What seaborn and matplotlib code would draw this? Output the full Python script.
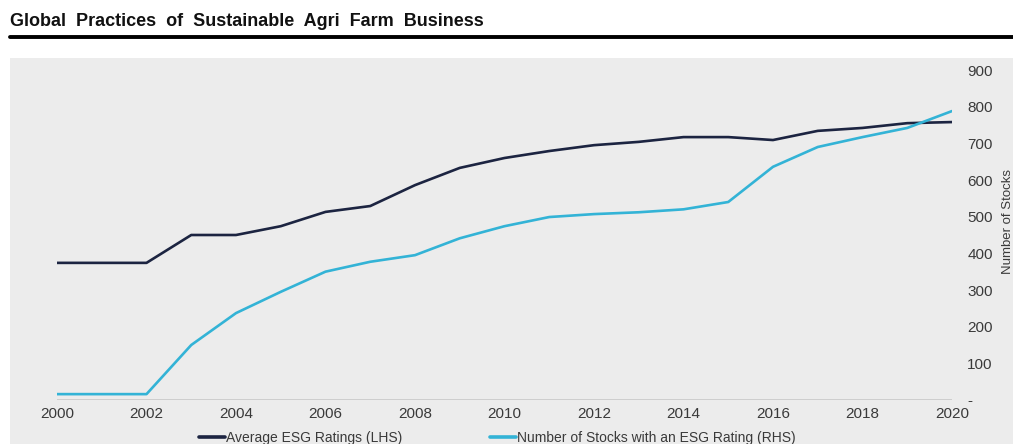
import matplotlib
matplotlib.use("Agg")
import matplotlib.pyplot as plt
from matplotlib.patches import Rectangle
import seaborn as sns
import pandas as pd

# Series values
years = list(range(2000, 2021))
avg_esg_rating = [374, 374, 374, 450, 450, 474, 513, 529, 586, 633, 660,
                  679, 695, 704, 717, 717, 709, 734, 742, 755, 758]
stocks_with_rating = [16, 16, 16, 150, 237, 295, 350, 377, 395, 441, 474,
                      499, 507, 512, 520, 540, 636, 690, 717, 742, 788]
series_names = ["Average ESG Ratings (LHS)",
                "Number of Stocks with an ESG Rating (RHS)"]
year_ticks = list(range(2000, 2021, 2))
right_ticks = list(range(0, 1000, 100))
right_tick_labels = ["-"] + [str(v) for v in right_ticks[1:]]

title = "Global  Practices  of  Sustainable  Agri  Farm  Business"
colors = ["#1c2441", "#33b3d6"]

sns.set_theme(style="white")
plt.rcParams["font.family"] = ["Liberation Sans", "DejaVu Sans"]

df = pd.DataFrame({
    "Year": years * 2,
    "Value": avg_esg_rating + stocks_with_rating,
    "Series": [series_names[0]] * len(years) + [series_names[1]] * len(years),
})

fig = plt.figure(figsize=(10.13, 4.44), dpi=100)
fig.patch.set_facecolor("white")

# Grey chart panel behind the plot
fig.patches.append(Rectangle((10 / 1013, 0), 1 - 10 / 1013, (444 - 58) / 444,
                             transform=fig.transFigure, facecolor="#ececec",
                             edgecolor="none", zorder=-5))

# Title and heavy rule beneath it
fig.text(10 / 1013, 1 - 22 / 444, title, fontsize=13, fontweight="bold",
         color="#111111", ha="left", va="center")
fig.add_artist(plt.Line2D([10 / 1013, 1], [1 - 37.5 / 444, 1 - 37.5 / 444],
                          transform=fig.transFigure, color="black", lw=2.8))

ax = fig.add_axes([57 / 1013, 44 / 444, (952 - 57) / 1013, (400 - 70) / 444])
ax.set_facecolor("none")
ax.set_zorder(2)

sns.lineplot(data=df, x="Year", y="Value", hue="Series", palette=colors,
             linewidth=1.9, ax=ax, legend=False)

ax.set_xlim(2000, 2020)
ax.set_ylim(0, 900)
ax.axhline(0, color="#c9c9c9", lw=1.2, zorder=1)

for s in ax.spines.values():
    s.set_visible(False)

ax.set_xticks(year_ticks)
ax.set_xticklabels([str(y) for y in year_ticks])
ax.yaxis.tick_right()
ax.set_yticks(right_ticks)
ax.set_yticklabels(right_tick_labels)
ax.tick_params(axis="x", length=0, pad=5, labelsize=11, labelcolor="#3a3a3a")
ax.tick_params(axis="y", length=0, pad=11, labelsize=11, labelcolor="#3a3a3a")
for lbl in ax.get_yticklabels():
    lbl.set_horizontalalignment("left")
ax.set_xlabel("")
ax.set_ylabel("")

fig.text(1008 / 1013, 1 - 222 / 444, "Number of Stocks", rotation=90,
         fontsize=9.5, color="#3a3a3a", ha="center", va="center")

handles = [plt.Line2D([], [], color=c, lw=2.6) for c in colors]
fig.legend(handles, series_names, loc="center", ncol=2,
           bbox_to_anchor=(497 / 1013, 1 - 438 / 444), frameon=False,
           fontsize=10, handlelength=1.9, handletextpad=0.05,
           columnspacing=6.3, labelcolor="#3a3a3a")

fig.savefig("out.png", dpi=100)
